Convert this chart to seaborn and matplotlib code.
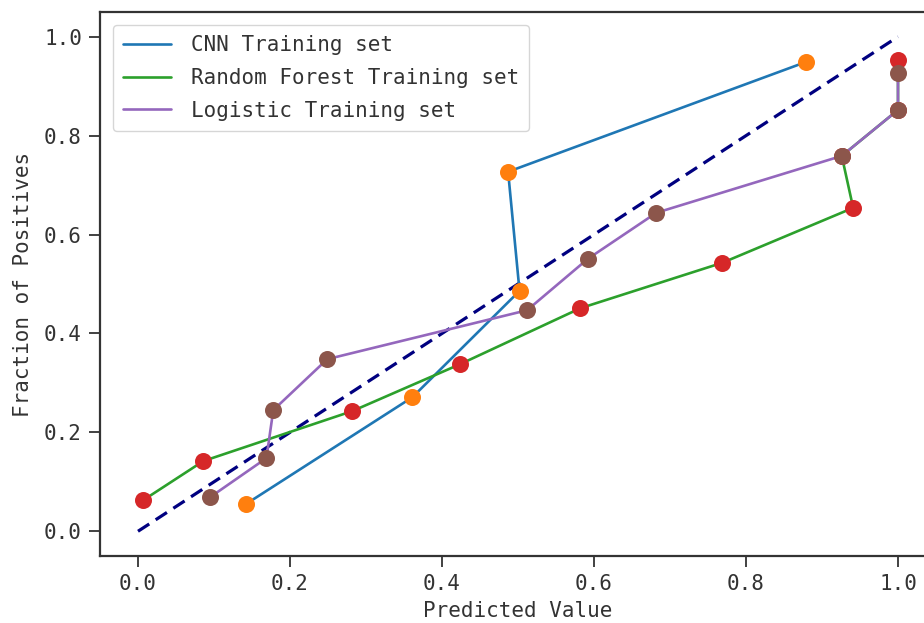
import matplotlib
matplotlib.use("Agg")
import matplotlib.pyplot as plt
import seaborn as sns
import pandas as pd

# Calibration curve points (mean predicted value, fraction of positives)
cnn_x = [0.142, 0.361, 0.502, 0.487, 0.879]
cnn_y = [0.055, 0.271, 0.486, 0.727, 0.949]

rf_x = [0.007, 0.086, 0.282, 0.424, 0.582, 0.769, 0.941, 0.926, 1.000, 1.000]
rf_y = [0.063, 0.142, 0.243, 0.338, 0.451, 0.543, 0.654, 0.759, 0.852, 0.953]

lr_x = [0.095, 0.169, 0.178, 0.249, 0.512, 0.592, 0.682, 0.926, 1.000, 1.000]
lr_y = [0.069, 0.148, 0.245, 0.348, 0.447, 0.551, 0.644, 0.759, 0.852, 0.927]

labels = ["CNN Training set", "Random Forest Training set", "Logistic Training set"]
diag = [0.0, 1.0]

sns.set_style("ticks")
plt.rcParams["font.family"] = ["DejaVu Sans Mono"]
plt.rcParams["font.size"] = 15

fig = plt.figure(figsize=(9.24, 6.23), dpi=100)
ax = fig.add_axes([100 / 924, 67 / 623, 836 / 924, 544 / 623])

# perfectly calibrated reference
ax.plot(diag, diag, linestyle="--", color="navy", linewidth=2.3, dashes=(4.2, 2.4))

series = [
    (cnn_x, cnn_y, labels[0], "tab:blue", "tab:orange"),
    (rf_x, rf_y, labels[1], "tab:green", "tab:red"),
    (lr_x, lr_y, labels[2], "tab:purple", "tab:brown"),
]
for xs, ys, lab, line_c, dot_c in series:
    df = pd.DataFrame({"x": xs, "y": ys})
    sns.lineplot(data=df, x="x", y="y", sort=False, estimator=None,
                 color=line_c, linewidth=1.9, label=lab, ax=ax)
    sns.scatterplot(data=df, x="x", y="y", color=dot_c, s=150,
                    linewidth=0, ax=ax, zorder=3)

ax.set_xlim(-0.05, 1.05)
ax.set_ylim(-0.05, 1.05)
ax.set_xticks([0.0, 0.2, 0.4, 0.6, 0.8, 1.0])
ax.set_yticks([0.0, 0.2, 0.4, 0.6, 0.8, 1.0])
ax.set_xticklabels(["0.0", "0.2", "0.4", "0.6", "0.8", "1.0"])
ax.set_yticklabels(["0.0", "0.2", "0.4", "0.6", "0.8", "1.0"])
ax.tick_params(length=8, width=1.3, colors="#333333", labelsize=15, pad=5)
for sp in ax.spines.values():
    sp.set_linewidth(1.6)
    sp.set_color("#333333")
ax.set_xlabel("Predicted Value", fontsize=15, color="#333333", labelpad=5)
ax.set_ylabel("Fraction of Positives", fontsize=15, color="#333333", labelpad=8)

leg = ax.legend(loc="upper left", fontsize=15, handlelength=2.3,
                handletextpad=0.95, labelspacing=0.62, borderaxespad=0.6,
                borderpad=0.5, frameon=True)
leg.get_frame().set_edgecolor("#cccccc")
for t in leg.get_texts():
    t.set_color("#333333")

fig.savefig("out.png", dpi=100)
